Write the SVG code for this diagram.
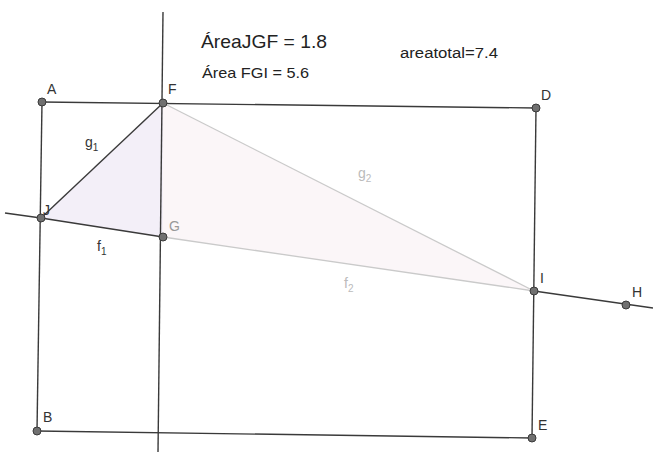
<svg xmlns="http://www.w3.org/2000/svg" width="653" height="452" viewBox="0 0 653 452">
<style>
.ln{stroke:#3a3a3a;stroke-width:1.4;fill:none}
.lt{stroke:#cacaca;stroke-width:1.3;fill:none}
.pt{fill:#707070;stroke:#3a3a3a;stroke-width:1}
.lb{font-family:"Liberation Sans",Arial,sans-serif;font-size:14px;fill:#333}
.lg{font-family:"Liberation Sans",Arial,sans-serif;font-size:14px;fill:#bbb}
.tt{font-family:"Liberation Sans",Arial,sans-serif;fill:#222}
</style>
<rect width="653" height="452" fill="#fff"/>
<g id="fill">
<polygon points="41,218 163,103 163,237" fill="#f3eff8"/>
<polygon points="163,103 534,291 163,237" fill="#fbf6f8"/>
</g>
<g id="connectors">
<line class="ln" x1="163" y1="12" x2="158" y2="452"/>
<line class="ln" x1="42" y1="102" x2="536" y2="108"/>
<line class="ln" x1="37" y1="431" x2="532" y2="438"/>
<line class="ln" x1="42" y1="102" x2="37" y2="431"/>
<line class="ln" x1="536" y1="108" x2="532" y2="438"/>
<line class="ln" x1="5" y1="213" x2="41" y2="218"/>
<line class="ln" x1="41" y1="218" x2="163" y2="237"/>
<line class="lt" x1="163" y1="237" x2="534" y2="291"/>
<line class="ln" x1="534" y1="291" x2="653" y2="308"/>
<line class="ln" x1="41" y1="218" x2="163" y2="103"/>
<line class="lt" x1="163" y1="103" x2="534" y2="291"/>
</g>
<g id="labels">
<text class="tt" x="201" y="48" font-size="19" textLength="126" lengthAdjust="spacingAndGlyphs">ÁreaJGF = 1.8</text>
<text class="tt" x="202" y="78" font-size="15" textLength="107" lengthAdjust="spacingAndGlyphs">Área FGI = 5.6</text>
<text class="tt" x="400" y="58" font-size="14" textLength="98" lengthAdjust="spacingAndGlyphs">areatotal=7.4</text>
<text class="lb" x="85" y="147">g<tspan font-size="10" dy="4">1</tspan></text>
<text class="lb" x="97" y="251">f<tspan font-size="10" dy="4">1</tspan></text>
<text class="lg" x="358" y="178">g<tspan font-size="10" dy="4">2</tspan></text>
<text class="lg" x="344" y="288">f<tspan font-size="10" dy="4">2</tspan></text>
</g>
<g id="A"><circle class="pt" cx="42" cy="102" r="4"/><text class="lb" x="47" y="94">A</text></g>
<g id="F"><circle class="pt" cx="163" cy="103" r="4"/><text class="lb" x="168" y="94">F</text></g>
<g id="D"><circle class="pt" cx="536" cy="108" r="4"/><text class="lb" x="541" y="100">D</text></g>
<g id="J"><circle class="pt" cx="41" cy="218" r="4"/><text class="lb" x="43" y="215">J</text></g>
<g id="G"><circle class="pt" cx="163" cy="237" r="4"/><text class="lg" x="169" y="231" style="fill:#999">G</text></g>
<g id="I"><circle class="pt" cx="534" cy="291" r="4"/><text class="lb" x="540" y="283">I</text></g>
<g id="H"><circle class="pt" cx="626" cy="305" r="4"/><text class="lb" x="632" y="297">H</text></g>
<g id="B"><circle class="pt" cx="37" cy="431" r="4"/><text class="lb" x="43" y="422">B</text></g>
<g id="E"><circle class="pt" cx="532" cy="438" r="4"/><text class="lb" x="538" y="430">E</text></g>
</svg>
